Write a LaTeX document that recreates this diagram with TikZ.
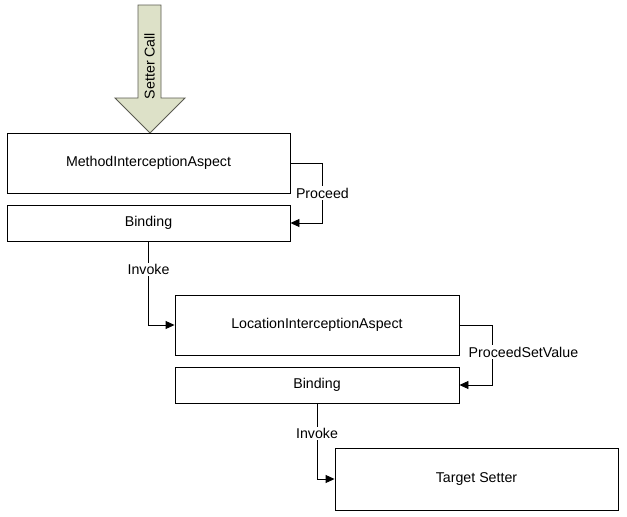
\documentclass[tikz,border=0pt]{standalone}
\usepackage{fontspec}
\setmainfont{Liberation Sans}
\usetikzlibrary{arrows.meta}
\definecolor{arrowfill}{RGB}{221,225,200}
\definecolor{arrowline}{RGB}{90,90,80}
\begin{document}
\begin{tikzpicture}[x=1pt,y=-1pt,
  font=\fontsize{14.2}{17}\selectfont,
  box/.style={draw, line width=0.9pt, fill=white, inner sep=0pt},
  conn/.style={draw, line width=0.9pt, -{Triangle[length=9pt,width=8pt]}},
  lbl/.style={fill=white, inner sep=1.5pt}]
\useasboundingbox (0,0) rectangle (627,517);
% Setter Call arrow
\draw[fill=arrowfill, draw=arrowline, line width=0.9pt]
  (138,5) -- (161,5) -- (161,98) -- (185,98) -- (150,133) -- (115,98) -- (138,98) -- cycle;
\node[rotate=90] (sc) at (149.5,66) {Setter Call};
% boxes
\node[box, minimum width=283pt, minimum height=60pt] (b1) at (148.5,163) {MethodInterceptionAspect};
\node[box, minimum width=283pt, minimum height=36pt] (b2) at (148.5,223) {Binding};
\node[box, minimum width=284pt, minimum height=60pt] (b3) at (317,325) {LocationInterceptionAspect};
\node[box, minimum width=284pt, minimum height=36pt] (b4) at (317,385) {Binding};
\node[box, minimum width=283pt, minimum height=62pt] (b5) at (476.5,479) {Target Setter};
% connectors
\draw[conn] (b1.east) -- ++(32,0) |- node[lbl, pos=0.25] (l1) {Proceed} (b2.east);
\draw[conn] (b2.south) |- node[lbl, pos=0.167] (l2) {Invoke} (b3.west);
\draw[conn] (b3.east) -- ++(33,0) |- node[lbl, pos=0.225, xshift=31pt] (l3) {ProceedSetValue} (b4.east);
\draw[conn] (b4.south) |- node[lbl, pos=0.2] (l4) {Invoke} (b5.west);
\end{tikzpicture}
\end{document}
